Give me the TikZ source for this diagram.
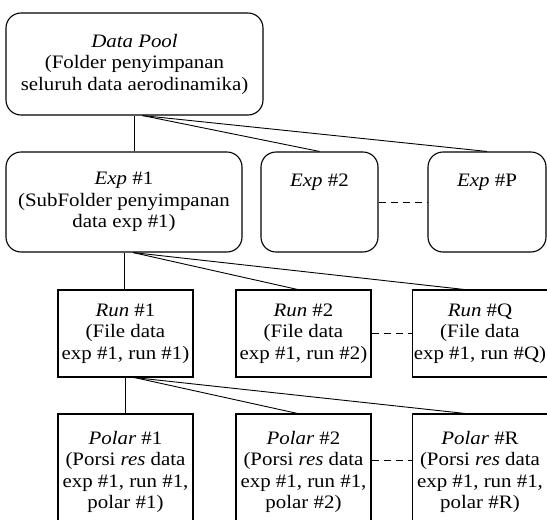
\documentclass[tikz,border=0pt]{standalone}
\usepackage{fontspec}
\setmainfont{Liberation Serif}[FakeStretch=1.1]
\usepackage{tikz}
\usetikzlibrary{calc}

\tikzset{
    folderbox/.style={draw, line width=1.1pt, rounded corners=15pt, align=center, inner sep=0pt,
        font=\fontsize{19}{21.5}\selectfont},
    filebox/.style={draw, line width=1.1pt, align=center, inner sep=0pt,
        font=\fontsize{19}{21.5}\selectfont},
    link/.style={line width=0.9pt},
    dashline/.style={line width=0.9pt, dash pattern=on 7pt off 5pt}
}

\begin{document}
\begin{tikzpicture}[x=1pt, y=-1pt]
    % Frame of the picture
    \clip (0,0) rectangle (547,520);

    % Top level folder
    \node[folderbox, minimum width=257pt, minimum height=102pt] (dp) at (134.5,64)
        {\textit{Data Pool}\\(Folder penyimpanan\\seluruh data aerodinamika)};

    % Experiment folders
    \node[folderbox, minimum width=236pt, minimum height=100pt] (e1) at (124,202)
        {\textit{Exp} \#1\\(SubFolder penyimpanan\\data exp \#1)};
    \node[folderbox, minimum width=117pt, minimum height=100pt] (e2) at (319.5,202)
        {\textit{Exp} \#2\\\mbox{}\\\mbox{}};
    \node[folderbox, minimum width=118pt, minimum height=100pt] (eP) at (487,202)
        {\textit{Exp} \#P\\\mbox{}\\\mbox{}};

    % Run files and polar portions
    \foreach \i/\x in {1/125.5, 2/303.5, Q/480} {
        \node[filebox, minimum width=135pt, minimum height=87pt] (r\i) at (\x,333.5)
            {\textit{Run} \#\i\\(File data\\exp \#1, run \#\i)};
    }
    \foreach \i/\x in {1/125.5, 2/303.5, R/480} {
        \node[filebox, minimum width=135pt, minimum height=116pt] (p\i) at (\x,472)
            {\textit{Polar} \#\i\\(Porsi \textit{res} data\\exp \#1, run \#1,\\polar \#\i)};
    }

    % Connectors
    \draw[link] (dp.south) -- (dp.south |- e1.north);
    \draw[link] ([xshift=8pt]dp.south) -- (e2.north);
    \draw[link] ([xshift=8pt]dp.south) -- (eP.north);

    \draw[link] (e1.south) -- (e1.south |- r1.north);
    \draw[link] ([xshift=9pt]e1.south) -- ([xshift=-6pt]r2.north);
    \draw[link] ([xshift=9pt]e1.south) -- ([xshift=-16pt]rQ.north);

    \draw[link] (r1.south) -- (r1.south |- p1.north);
    \draw[link] ([xshift=9pt]r1.south) -- ([xshift=-6pt]p2.north);
    \draw[link] ([xshift=9pt]r1.south) -- ([xshift=-15pt]pR.north);

    % Gaps between siblings
    \draw[dashline] (e2.east) -- (eP.west);
    \draw[dashline] (r2.east) -- (rQ.west);
    \draw[dashline] ([yshift=12pt]p2.east) -- ([yshift=12pt]pR.west);
\end{tikzpicture}
\end{document}
